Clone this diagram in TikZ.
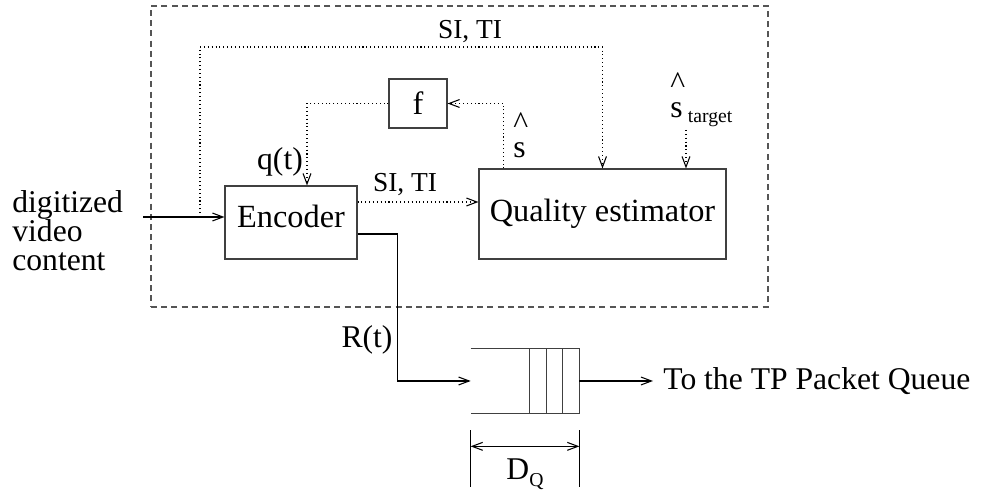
\documentclass[tikz,border=0pt]{standalone}
\usepackage{fontspec}
\setmainfont{Liberation Serif}
\usetikzlibrary{arrows.meta,positioning,calc}
\definecolor{BoxGray}{HTML}{404040}
\definecolor{FrameGray}{HTML}{555555}

\begin{document}
\begin{tikzpicture}[
    box/.style={rectangle, draw=BoxGray, line width=0.6pt, inner sep=0pt,
                font=\fontsize{18.4}{18}\selectfont},
    lbl/.style={inner sep=0pt, font=\fontsize{18}{16.5}\selectfont},
    hatlbl/.style={inner sep=0pt, align=left, font=\fontsize{18}{13.5}\selectfont},
    sml/.style={inner sep=0pt, font=\fontsize{15.6}{15.6}\selectfont},
    arr/.style={-{Straight Barb[length=6pt,width=4.5pt]}, line width=0.6pt},
    dotarr/.style={arr, dash pattern=on 0.6pt off 1.6pt},
  ]
  \useasboundingbox (0,0) rectangle (19.74,9.82);
  \node[draw=FrameGray, line width=0.6pt, dash pattern=on 3.4pt off 2.4pt,
        minimum width=12.34cm, minimum height=6.02cm, inner sep=0pt] (frame) at (9.19,6.69) {};
  \node[box, minimum width=2.64cm, minimum height=1.46cm, text depth=0.24cm] (enc) at (5.82,5.37) {Encoder};
  \node[box, minimum width=4.94cm, minimum height=1.80cm] (qe) at (12.05,5.54) {Quality estimator};
  \node[box, minimum width=1.16cm, minimum height=0.98cm] (f) at (8.36,7.75) {f};
  \node[lbl, anchor=west, align=left] (src) at (0.24,5.20) {digitized\\video\\content};
  \coordinate (in) at (2.86,5.48);
  \coordinate (tap) at (4.00,5.48);
  \coordinate (tgtin) at (13.72,7.22);
  \draw[arr] (in) -- (in -| enc.west);
  \draw[dotarr] (tap) -- ++(0,3.40) -| (qe.north);
  \node[sml] (sitop) at (9.40,9.18) {SI, TI};
  \draw[dotarr] (f.west) -| ([xshift=0.32cm]enc.north);
  \node[lbl] (qt) at (5.60,6.58) {q(t)};
  \draw[dotarr] ([xshift=0.5cm]qe.north west) |- (f.east);
  \node[hatlbl, anchor=west] (shat) at (10.26,7.12) {\textasciicircum\\s};
  \draw[dotarr] ([yshift=0.41cm]enc.east) -- ([yshift=0.41cm]enc.east -| qe.west);
  \node[sml] (simid) at (8.10,6.12) {SI, TI};
  \draw[dotarr] (tgtin) -- (tgtin |- qe.north);
  \node[hatlbl, anchor=west] (starget) at (13.40,7.82)
    {\textasciicircum\\s\,\raisebox{-3pt}{\fontsize{11.2}{11}\selectfont target}};
  \node[minimum width=2.16cm, minimum height=1.28cm, inner sep=0pt] (q) at (10.50,2.20) {};
  \draw[BoxGray, line width=0.6pt] (q.north west) -- (q.north east) -- (q.south east) -- (q.south west);
  \foreach \k in {1,2,3}
    \draw[BoxGray, line width=0.6pt] ([xshift=-0.33*\k cm]q.north east) -- ([xshift=-0.33*\k cm]q.south east);
  \draw[arr] ([yshift=-0.23cm]enc.east) -| ([xshift=-1.46cm]q.west) -- (q.west);
  \node[lbl] (rt) at (7.34,3.02) {R(t)};
  \node[lbl, inner xsep=0.2cm, anchor=west] (out) at (13.06,2.20) {To the TP Packet Queue};
  \draw[arr] (q.east) -- (out.west);
  \draw[line width=0.6pt] ([yshift=-0.34cm]q.south west) -- ++(0,-1.14);
  \draw[line width=0.6pt] ([yshift=-0.34cm]q.south east) -- ++(0,-1.14);
  \draw[{Straight Barb[length=6pt,width=4.5pt]}-{Straight Barb[length=6pt,width=4.5pt]}, line width=0.6pt]
    ([yshift=-0.66cm]q.south west) -- ([yshift=-0.66cm]q.south east);
  \node[lbl] (dq) at (10.50,0.34) {D\raisebox{-4pt}{\fontsize{11.2}{11}\selectfont Q}};
\end{tikzpicture}
\end{document}
